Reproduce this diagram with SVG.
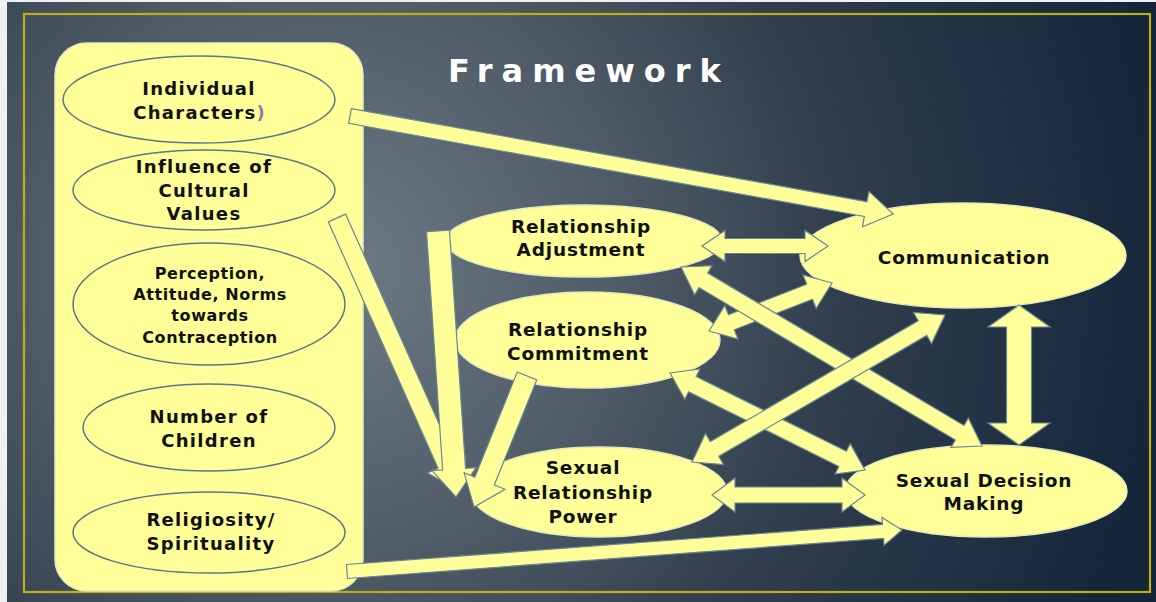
<svg xmlns="http://www.w3.org/2000/svg" width="1156" height="602" viewBox="0 0 1156 602">
<defs>
<radialGradient id="bg" gradientUnits="userSpaceOnUse" cx="330" cy="270" r="850">
<stop offset="0" stop-color="#6e7b85"/>
<stop offset="0.35" stop-color="#4e5b66"/>
<stop offset="0.6" stop-color="#303e4d"/>
<stop offset="1" stop-color="#15253a"/>
</radialGradient>
<style>
.panel{fill:#ffff99;stroke:#e4ebc4;stroke-width:1.5}
.lel{fill:#ffff99;stroke:#5e7687;stroke-width:1.5}
.rel{fill:#ffff99;stroke:#e2e9bd;stroke-width:1.5}
.arr{fill:#ffff99;stroke:#6a8696;stroke-width:1.2;stroke-linejoin:miter}
.t{font-family:"DejaVu Sans","Liberation Sans",sans-serif;font-weight:bold;fill:#111;text-anchor:middle}
.l{font-size:18px;letter-spacing:1.3px}
.s{font-size:16px;letter-spacing:0.6px}
.r{font-size:18.5px;letter-spacing:0.8px}
.title{font-family:"DejaVu Sans","Liberation Sans",sans-serif;font-weight:bold;font-size:32px;fill:#ffffff;letter-spacing:9px}
</style>
</defs>
<rect x="0" y="0" width="1156" height="602" fill="#eef0f2"/>
<rect x="7" y="2" width="1149" height="600" fill="url(#bg)"/>
<rect x="24" y="14" width="1126" height="578" fill="none" stroke="#bcb010" stroke-width="2.2"/>
<text class="title" x="448" y="82">Framework</text>

<g id="left-panel">
<rect class="panel" x="55" y="43" width="308" height="548" rx="32"/>
</g>
<g id="node-individual">
<ellipse class="lel" cx="199" cy="99.5" rx="136" ry="43.5"/>
<text class="t l" x="199" y="95">Individual</text>
<text class="t l" x="199" y="119">Characters<tspan fill="#8a7fb0" letter-spacing="0">)</tspan></text>
</g>
<g id="node-cultural">
<ellipse class="lel" cx="204" cy="190" rx="131" ry="40"/>
<text class="t l" x="204" y="173">Influence of</text>
<text class="t l" x="204" y="197">Cultural</text>
<text class="t l" x="204" y="220">Values</text>
</g>
<g id="node-perception">
<ellipse class="lel" cx="209" cy="304" rx="136" ry="61"/>
<text class="t s" x="210" y="279">Perception,</text>
<text class="t s" x="210" y="300">Attitude, Norms</text>
<text class="t s" x="210" y="321">towards</text>
<text class="t s" x="210" y="343">Contraception</text>
</g>
<g id="node-children">
<ellipse class="lel" cx="209" cy="427.5" rx="126" ry="43.5"/>
<text class="t l" x="209" y="423">Number of</text>
<text class="t l" x="209" y="447">Children</text>
</g>
<g id="node-religiosity">
<ellipse class="lel" cx="209" cy="532.5" rx="136" ry="40.5"/>
<text class="t l" x="211" y="526">Religiosity/</text>
<text class="t l" x="211" y="550">Spirituality</text>
</g>

<g id="node-adjustment">
<ellipse class="rel" cx="584" cy="241" rx="138" ry="36"/>
<text class="t r" x="581" y="233">Relationship</text>
<text class="t r" x="581" y="256">Adjustment</text>
</g>
<g id="node-commitment">
<ellipse class="rel" cx="587.5" cy="340" rx="132.5" ry="48"/>
<text class="t r" x="578" y="336">Relationship</text>
<text class="t r" x="578" y="360">Commitment</text>
</g>
<g id="node-power">
<ellipse class="rel" cx="599" cy="492" rx="128" ry="45"/>
<text class="t r" x="583" y="474">Sexual</text>
<text class="t r" x="583" y="499">Relationship</text>
<text class="t r" x="583" y="523">Power</text>
</g>
<g id="node-communication">
<ellipse class="rel" cx="963" cy="255.5" rx="163" ry="52.5"/>
<text class="t r" x="964" y="264">Communication</text>
</g>
<g id="node-decision">
<ellipse class="rel" cx="986" cy="491" rx="141" ry="46"/>
<text class="t r" x="984" y="487">Sexual Decision</text>
<text class="t r" x="984" y="510">Making</text>
</g>

<g id="connectors">
<polygon class="arr" transform="translate(350,116) rotate(10.23)" points="0,-7.5 524,-7.5 524,-18 552,0 524,18 524,7.5 0,7.5"/>
<polygon class="arr" transform="translate(347,571.5) rotate(-4.28)" points="0,-7 537.5,-7 537.5,-14 556.5,0 537.5,14 537.5,7 0,7"/>
<polygon class="arr" transform="translate(337,218) rotate(66.0)" points="0,-9.5 269.7,-9.5 269.7,-21 297.7,0 269.7,21 269.7,9.5 0,9.5"/>
<polygon class="arr" transform="translate(438,231) rotate(86.13)" points="0,-11.5 238.6,-11.5 238.6,-22 266.6,0 238.6,22 238.6,11.5 0,11.5"/>
<polygon class="arr" transform="translate(527,376) rotate(112.0)" points="0,-10.5 113.3,-10.5 113.3,-22 141.3,0 113.3,22 113.3,10.5 0,10.5"/>
<polygon class="arr" transform="translate(702,246)" points="0,0 23,-15.5 23,-7.5 103,-7.5 103,-15.5 126,0 103,15.5 103,7.5 23,7.5 23,15.5"/>
<polygon class="arr" transform="translate(709,331) rotate(-21.32)" points="0,0 24,-18 24,-8 108,-8 108,-18 132,0 108,18 108,8 24,8 24,18"/>
<polygon class="arr" transform="translate(681,267) rotate(30.74)" points="0,0 26,-17 26,-8.5 324.2,-8.5 324.2,-17 350.2,0 324.2,17 324.2,8.5 26,8.5 26,17"/>
<polygon class="arr" transform="translate(670,373) rotate(26.45)" points="0,0 25,-17 25,-8.5 192.8,-8.5 192.8,-17 217.8,0 192.8,17 192.8,8.5 25,8.5 25,17"/>
<polygon class="arr" transform="translate(692,462) rotate(-30.16)" points="0,0 26,-18 26,-8.5 266.6,-8.5 266.6,-18 292.6,0 266.6,18 266.6,8.5 26,8.5 26,18"/>
<polygon class="arr" transform="translate(712,495)" points="0,0 23,-17 23,-8 130,-8 130,-17 153,0 130,17 130,8 23,8 23,17"/>
<polygon class="arr" transform="translate(1019,305) rotate(90)" points="0,0 22,-31 22,-12.5 118,-12.5 118,-31 140,0 118,31 118,12.5 22,12.5 22,31"/>
</g>
</svg>
